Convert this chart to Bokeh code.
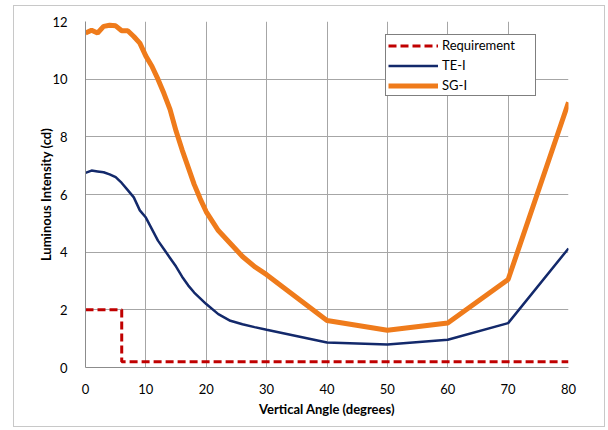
from bokeh.plotting import figure
from bokeh.models import Range1d, Legend, LegendItem, FixedTicker
from bokeh.embed import file_html
from bokeh.resources import INLINE

# Data
angle_sg = [0, 1, 2, 3, 4, 5, 6, 7, 8, 9, 10, 11, 12, 13, 14, 15, 16, 17, 18, 19, 20,
            22, 24, 26, 28, 30, 40, 50, 60, 70, 80]
sg_i = [11.6, 11.7, 11.6, 11.83, 11.87, 11.85, 11.68, 11.68, 11.48, 11.25, 10.8,
        10.45, 10.0, 9.5, 8.95, 8.2, 7.55, 6.95, 6.35, 5.85, 5.4,
        4.75, 4.3, 3.85, 3.5, 3.22, 1.63, 1.29, 1.54, 3.05, 9.2]

angle_te = [0, 1, 2, 3, 4, 5, 6, 7, 8, 9, 10, 11, 12, 13, 14, 15, 16, 17, 18, 19, 20,
            22, 24, 26, 28, 30, 40, 50, 60, 70, 80]
te_i = [6.75, 6.83, 6.8, 6.77, 6.7, 6.6, 6.4, 6.15, 5.9, 5.45, 5.2, 4.8, 4.4, 4.1,
        3.8, 3.5, 3.15, 2.85, 2.6, 2.4, 2.2, 1.85, 1.62, 1.5, 1.4, 1.31,
        0.87, 0.8, 0.96, 1.54, 4.13]

angle_req = [0, 6, 6, 80]
requirement = [2.0, 2.0, 0.2, 0.2]

x_ticks = [0, 10, 20, 30, 40, 50, 60, 70, 80]
y_ticks = [0, 2, 4, 6, 8, 10, 12]

FONT = "Lato"

p = figure(width=592, height=422, output_backend="svg", toolbar_location=None,
           x_range=Range1d(0, 80), y_range=Range1d(0, 12),
           min_border_left=71, min_border_right=38, min_border_top=15,
           min_border_bottom=61)
p.styles = {"margin-left": "13px", "margin-top": "5px",
            "border": "1px solid #c8c8c8"}

p.outline_line_color = None
p.background_fill_color = "white"
p.border_fill_color = "white"

for ax in (p.xaxis[0], p.yaxis[0]):
    ax.axis_line_color = "#8c8c8c"
    ax.major_tick_line_color = None
    ax.minor_tick_line_color = None
    ax.major_label_text_font = FONT
    ax.major_label_text_font_size = "13px"
    ax.major_label_text_color = "#000000"
    ax.axis_label_text_font = FONT
    ax.axis_label_text_font_size = "13px"
    ax.axis_label_text_font_style = "bold"
    ax.axis_label_text_color = "#000000"

p.xaxis.ticker = FixedTicker(ticks=x_ticks)
p.yaxis.ticker = FixedTicker(ticks=y_ticks)
p.xaxis.major_label_standoff = 10
p.yaxis.major_label_standoff = 12
p.xaxis.axis_label = "Vertical Angle (degrees)"
p.yaxis.axis_label = "Luminous Intensity (cd)"
p.xaxis.axis_label_standoff = 4
p.yaxis.axis_label_standoff = -5

p.xgrid.ticker = FixedTicker(ticks=x_ticks)
p.ygrid.ticker = FixedTicker(ticks=y_ticks)
p.xgrid.grid_line_color = "#a6a6a6"
p.ygrid.grid_line_color = "#a6a6a6"
p.xgrid.grid_line_width = 1
p.ygrid.grid_line_width = 1

r_req = p.line(angle_req, requirement, line_color="#c00000", line_width=3,
               line_dash="8 4")
r_te = p.line(angle_te, te_i, line_color="#13296b", line_width=2.5)
r_sg = p.line(angle_sg, sg_i, line_color="#ef7b1b", line_width=5)

legend = Legend(items=[LegendItem(label="Requirement", renderers=[r_req]),
                       LegendItem(label="TE-I", renderers=[r_te]),
                       LegendItem(label="SG-I", renderers=[r_sg])],
                location=(300, 271))
legend.border_line_color = "#000000"
legend.border_line_width = 1
legend.background_fill_color = "white"
legend.background_fill_alpha = 1
legend.padding = 2
legend.margin = 0
legend.spacing = 4
legend.glyph_width = 50
legend.glyph_height = 15
legend.label_height = 15
legend.label_width = 91
legend.label_standoff = 4
legend.label_text_font = FONT
legend.label_text_font_size = "13px"
legend.label_text_color = "#000000"
p.add_layout(legend, "center")

open("out.html", "w").write(file_html(p, INLINE))
